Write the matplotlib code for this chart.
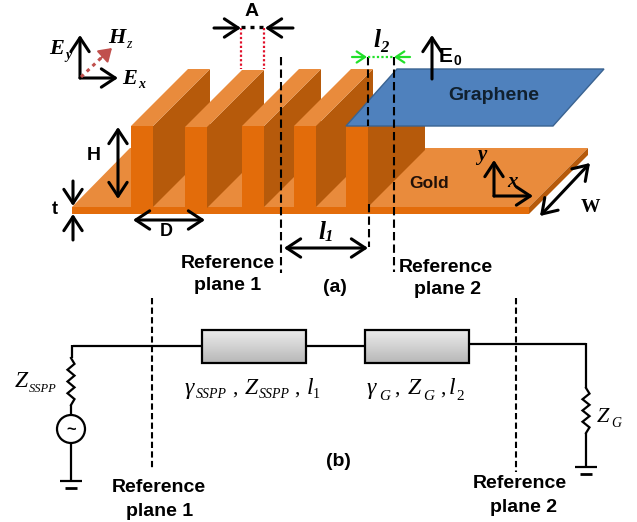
import matplotlib
matplotlib.use('Agg')
import matplotlib.pyplot as plt
import numpy as np
from matplotlib.patches import Polygon, Circle, Rectangle

plt.rcParams['font.family'] = ['Liberation Sans', 'DejaVu Sans']

# front-left x of the five fins, and the y of their top
fin_x = [131, 185, 242, 294, 346]
fin_top = [126, 127, 126, 126, 126]
fin_bottom = [207, 208, 207, 207, 207]
fin_w = 22
fin_depth = 57

top_col = '#E98B3C'
front_col = '#E36C0A'
side_col = '#B65A0B'
blue = '#4F81BD'
blue_edge = '#3A6391'
green = '#22E02A'
red = '#E0102A'
pink = '#C0504D'

fig = plt.figure(figsize=(6.37, 5.22), dpi=100)
ax = fig.add_axes([0, 0, 1, 1])
ax.set_xlim(0, 637)
ax.set_ylim(522, 0)
ax.axis('off')


def poly(pts, col, z=1, edge='none'):
    ax.add_patch(Polygon(pts, closed=True, fc=col, ec=edge, lw=1, zorder=z))


def arrow(x0, y0, x1, y1, style='->', col='k', lw=2.2, z=10, scale=1.0):
    head = 'head_length=%.2f,head_width=%.2f' % (0.5 * scale, 0.33 * scale)
    ax.annotate('', xy=(x1, y1), xytext=(x0, y0), zorder=z,
                arrowprops=dict(arrowstyle=style + ',' + head, color=col, lw=lw,
                                shrinkA=0, shrinkB=0, mutation_scale=20))


def line(xs, ys, col='k', lw=1.6, ls='-', z=9):
    ax.plot(xs, ys, color=col, lw=lw, ls=ls, zorder=z, solid_capstyle='butt',
            dash_capstyle='butt')


def label(x, y, s, size=14, **kw):
    ax.text(x, y, s, fontsize=size, fontweight='bold', ha='center', va='center', zorder=12, **kw)


def serif(x, y, s, size, weight='normal', style='italic'):
    # y is the text baseline
    ax.text(x, y, s, fontsize=size, family='Liberation Serif', style=style, fontweight=weight,
            ha='left', va='baseline', zorder=12)


# gold base
poly([(72, 207), (130, 148), (588, 148), (529, 207)], top_col, 1)
poly([(72, 207), (529, 207), (529, 214), (72, 214)], front_col, 2)
poly([(529, 207), (588, 148), (588, 155), (529, 214)], side_col, 2)

# fins, back to front
for x, top, bot in zip(fin_x, fin_top, fin_bottom):
    r = x + fin_w
    poly([(r, top), (r + fin_depth, top - fin_depth), (r + fin_depth, bot - fin_depth), (r, bot)], side_col, 3)
    poly([(x, top), (r, top), (r + fin_depth, top - fin_depth), (x + fin_depth, top - fin_depth)], top_col, 3)
    poly([(x, top), (r, top), (r, bot), (x, bot)], front_col, 4)

# graphene
poly([(346, 126), (553, 126), (604, 69), (397, 69)], blue, 5, blue_edge)
label(494, 95, 'Graphene', 14, color='#10202E')
label(429, 184, 'Gold', 12.5, color='#201008')

# A dimension
arrow(214, 28, 241, 28)
arrow(293, 28, 265, 28)
line([241, 265], [27, 27], lw=2.4, ls=(0, (1.2, 1.5)))
line([241, 241], [28, 69], col=red, lw=1.6, ls=(0, (1, 1)))
line([264, 264], [28, 69], col=red, lw=1.6, ls=(0, (1, 1)))
label(252, 12, 'A', 14)

# field axes
arrow(80, 78, 80, 35)
arrow(80, 78, 118, 78)
line([81, 101], [77, 58], col=pink, lw=2.2, ls=(0, (1.2, 1.4)), z=11)
arrow(100, 59, 112, 48, col=pink, lw=1.5, style='-|>', scale=0.75, z=11)
serif(49, 54, 'E', 16, 'bold')
serif(65, 59, 'y', 10, 'bold')
serif(122, 84, 'E', 16, 'bold')
serif(138, 88, 'x', 10, 'bold')
serif(108, 43, 'H', 16, 'bold')
serif(126, 48, 'z', 10)

# H, t, D
arrow(118, 127, 118, 199, '<->')
label(94, 155, 'H', 14)
arrow(73, 181, 73, 206)
arrow(73, 240, 73, 214)
label(55, 210, 't', 13)
arrow(133, 220, 205, 220, '<->')
label(166, 232, 'D', 13)

# reference planes (a)
line([281, 281], [57, 273], lw=1.5, ls=(0, (4, 2)))
line([368, 368], [57, 126], lw=1.5, ls=(0, (4, 2)))
line([369, 369], [204, 247], lw=1.5, ls=(0, (4, 2)))
line([394, 394], [57, 272], lw=1.5, ls=(0, (4, 2)))
arrow(284, 248, 368, 248, '<->')
serif(318, 239, 'l', 18, 'bold')
serif(325, 241, '1', 12, 'bold')
serif(373, 47, 'l', 18, 'bold')
serif(380, 52, '2', 12, 'bold')
arrow(352, 57, 367, 57, col=green, lw=1.6, scale=0.6)
arrow(410, 57, 394, 57, col=green, lw=1.6, scale=0.6)
line([368, 394], [57, 57], col=green, lw=1.6, ls=(0, (1, 1)))

arrow(432, 79, 432, 35)
ax.text(439, 62, 'E', fontsize=15, fontweight='bold', va='baseline', zorder=12)
ax.text(453, 65, '0', fontsize=10, fontweight='bold', va='baseline', zorder=12)

# y/x axes and width
arrow(494, 196, 494, 160)
arrow(494, 196, 533, 196)
serif(477, 160, 'y', 15, 'bold')
serif(507, 187, 'x', 15, 'bold')
arrow(540, 216, 590, 163, '<->')
ax.text(590, 207, 'W', fontsize=14, family='Liberation Serif', fontweight='bold',
        ha='center', va='center', zorder=12)

label(228, 263, 'Reference')
label(228, 285, 'plane 1')
label(446, 267, 'Reference')
label(448, 289, 'plane 2')
label(335, 288, '(a)')

# circuit (b)
line([73, 202], [345.5, 345.5])
line([306, 365], [346, 346])
line([469, 586], [344, 344])


def box(x0, x1, y0, y1):
    grad = np.linspace(0.92, 0.72, 50).reshape(-1, 1)
    ax.imshow(grad, extent=(x0, x1, y1, y0), cmap='gray', vmin=0, vmax=1, aspect='auto', zorder=3)
    ax.add_patch(Rectangle((x0, y0), x1 - x0, y1 - y0, fc='none', ec='k', lw=1.6, zorder=4))


box(202, 306, 330, 363)
box(365, 469, 330, 363)
ax.set_xlim(0, 637)
ax.set_ylim(522, 0)


def resistor(x, y0, y1, amp=3.5, n=4):
    ys = np.linspace(y0, y1, n * 2 + 1)
    xs = [x] + [x + amp * (-1) ** i for i in range(n * 2 - 1)] + [x]
    ax.plot(xs, ys, color='k', lw=1.6, zorder=9, solid_joinstyle='miter')


def ground(x, y):
    line([x - 11, x + 11], [y, y])
    line([x - 6, x + 6], [y + 7, y + 7], lw=2)


# source branch
line([72, 72], [345, 358])
resistor(71, 358, 405)
line([71, 71], [405, 415])
ax.add_patch(Circle((71, 429), 14, fc='white', ec='k', lw=1.6, zorder=9))
label(71, 429, '~', 12)
line([71, 71], [443, 481])
ground(71, 481)

# load branch
line([586, 586], [343, 388])
resistor(586, 388, 433)
line([586, 586], [433, 467])
ground(586, 467)

line([152, 152], [298, 470], lw=1.5, ls=(0, (3, 1.6)))
line([516, 516], [298, 472], lw=1.5, ls=(0, (3, 1.6)))

serif(15, 387, 'Z', 17)
serif(29, 392, 'SSPP', 9)

serif(185, 394, '\u03b3', 17)
serif(196, 398, 'SSPP', 10)
serif(232, 394, ',', 15, style='normal')
serif(245, 394, 'Z', 17)
serif(259, 398, 'SSPP', 10)
serif(294, 394, ',', 15, style='normal')
serif(307, 394, 'l', 17)
serif(313, 398, '1', 10, style='normal')

serif(367, 394, '\u03b3', 17)
serif(379, 400, 'G', 11)
serif(394, 394, ',', 15, style='normal')
serif(408, 394, 'Z', 17)
serif(423, 400, 'G', 11)
serif(440, 394, ',', 15, style='normal')
serif(449, 394, 'l', 17)
serif(456, 400, '2', 11, style='normal')

serif(597, 422, 'Z', 16)
serif(611, 427, 'G', 10)

label(338, 461, '(b)')
label(159, 488, 'Reference')
label(160, 511, 'plane 1')
label(520, 484, 'Reference')
label(523, 507, 'plane 2')

fig.savefig('out.png', dpi=100)
